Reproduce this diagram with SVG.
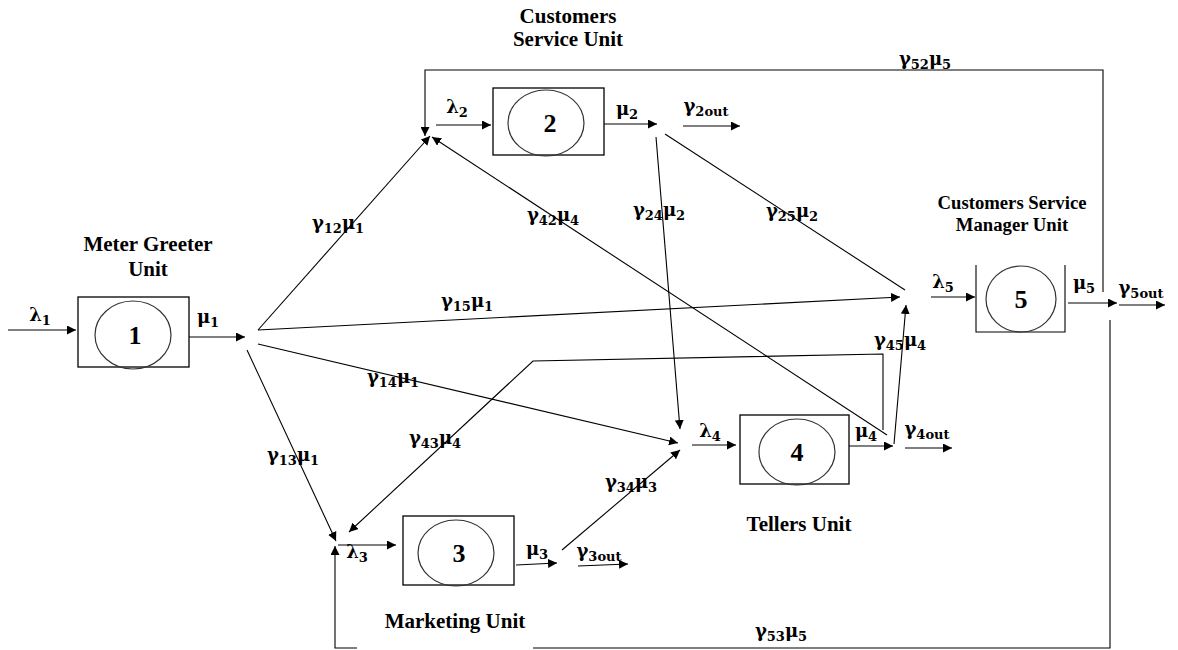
<svg xmlns="http://www.w3.org/2000/svg" width="1178" height="650" viewBox="0 0 1178 650">
<defs>
<marker id="ah" viewBox="0 0 10 10" refX="10" refY="5" markerWidth="9" markerHeight="9" markerUnits="userSpaceOnUse" orient="auto">
<path d="M0,0 L10,5 L0,10 z" fill="#000"/>
</marker>
<style>
.box{fill:#fff;stroke:#000;stroke-width:1.3}
.ell{fill:none;stroke:#333;stroke-width:1.2}
.num{font-family:"Liberation Serif",serif;font-weight:bold;font-size:26px;text-anchor:middle}
.title{font-family:"Liberation Serif",serif;font-weight:bold;font-size:21px;text-anchor:middle}
.small{font-size:18.7px}
.lab{font-family:"DejaVu Serif","Liberation Serif",serif;font-weight:bold;font-size:18px;text-anchor:middle}
.sub{font-size:13px}
.ln{fill:none;stroke:#000;stroke-width:1.1}
.arr{fill:none;stroke:#000;stroke-width:1.1;marker-end:url(#ah)}
</style>
</defs>
<rect width="1178" height="650" fill="#fff"/>

<g id="connectors">
<line class="arr" x1="8" y1="330" x2="76" y2="330"/>
<line class="arr" x1="189" y1="337" x2="245" y2="337"/>
<line class="arr" x1="258" y1="330" x2="430" y2="136"/>
<line class="arr" x1="258" y1="330" x2="900" y2="297"/>
<line class="arr" x1="258" y1="344" x2="678" y2="443"/>
<line class="arr" x1="247" y1="350" x2="336" y2="541"/>
<line class="arr" x1="436" y1="125" x2="491" y2="125"/>
<line class="arr" x1="597" y1="124" x2="657" y2="124"/>
<line class="arr" x1="683" y1="126" x2="740" y2="126"/>
<polyline class="arr" points="1103,292 1103,70 425,70 425,136"/>
<line class="arr" x1="656" y1="137" x2="680" y2="429"/>
<line class="ln" x1="665" y1="134" x2="905" y2="290"/>
<line class="arr" x1="887" y1="435" x2="432" y2="137"/>
<line class="arr" x1="931" y1="297" x2="975" y2="297"/>
<line class="arr" x1="1068" y1="303" x2="1117" y2="303"/>
<line class="arr" x1="1119" y1="305" x2="1165" y2="305"/>
<polyline class="ln" points="1110,320 1110,648 533,648"/>
<polyline class="arr" points="357,648 335,648 335,546"/>
<line class="arr" x1="338" y1="545" x2="396" y2="545"/>
<line class="arr" x1="516" y1="565" x2="557" y2="563"/>
<line class="arr" x1="578" y1="566" x2="628" y2="564"/>
<line class="arr" x1="562" y1="550" x2="680" y2="450"/>
<polyline class="arr" points="883,430 883,354 533,361 349,532"/>
<line class="arr" x1="894" y1="444" x2="906" y2="305"/>
<line class="arr" x1="692" y1="445" x2="736" y2="445"/>
<line class="arr" x1="849" y1="446" x2="893" y2="446"/>
<line class="arr" x1="905" y1="448" x2="952" y2="448"/>
</g>

<g id="node1">
<rect class="box" x="78" y="297" width="111" height="70"/>
<ellipse class="ell" cx="133" cy="335" rx="38" ry="34"/>
<text class="num" x="135" y="344">1</text>
</g>
<g id="node2">
<rect class="box" x="493" y="88" width="111" height="67"/>
<ellipse class="ell" cx="546" cy="123" rx="38" ry="33"/>
<text class="num" x="550" y="132">2</text>
</g>
<g id="node3">
<rect class="box" x="403" y="516" width="111" height="69"/>
<ellipse class="ell" cx="456" cy="553" rx="38" ry="33"/>
<text class="num" x="459" y="562">3</text>
</g>
<g id="node4">
<rect class="box" x="740" y="415" width="109" height="69"/>
<ellipse class="ell" cx="797" cy="452" rx="38" ry="33"/>
<text class="num" x="797" y="461">4</text>
</g>
<g id="node5">
<polyline class="ln" points="976,265 976,332 1065,332 1065,265" stroke-width="1.3"/>
<ellipse class="ell" cx="1021" cy="299" rx="35" ry="33"/>
<text class="num" x="1021" y="308">5</text>
</g>

<g id="titles">
<text class="title" x="568" y="23">Customers</text>
<text class="title" x="568" y="46">Service Unit</text>
<text class="title" x="148" y="251">Meter Greeter</text>
<text class="title" x="148" y="276">Unit</text>
<text class="title small" x="1012" y="209">Customers Service</text>
<text class="title small" x="1012" y="231">Manager Unit</text>
<text class="title" x="799" y="531">Tellers Unit</text>
<text class="title" x="455" y="628">Marketing Unit</text>
</g>

<g id="labels">
<text class="lab" x="40" y="321">λ<tspan class="sub" dy="4">1</tspan></text>
<text class="lab" x="208" y="323">μ<tspan class="sub" dy="4">1</tspan></text>
<text class="lab" x="457" y="113">λ<tspan class="sub" dy="4">2</tspan></text>
<text class="lab" x="627" y="115">μ<tspan class="sub" dy="4">2</tspan></text>
<text class="lab" x="706" y="112">γ<tspan class="sub" dy="4">2out</tspan></text>
<text class="lab" x="357" y="558">λ<tspan class="sub" dy="4">3</tspan></text>
<text class="lab" x="537" y="555">μ<tspan class="sub" dy="4">3</tspan></text>
<text class="lab" x="599" y="557">γ<tspan class="sub" dy="4">3out</tspan></text>
<text class="lab" x="710" y="437">λ<tspan class="sub" dy="4">4</tspan></text>
<text class="lab" x="866" y="437">μ<tspan class="sub" dy="4">4</tspan></text>
<text class="lab" x="927" y="435">γ<tspan class="sub" dy="4">4out</tspan></text>
<text class="lab" x="943" y="288">λ<tspan class="sub" dy="4">5</tspan></text>
<text class="lab" x="1084" y="289">μ<tspan class="sub" dy="4">5</tspan></text>
<text class="lab" x="1141" y="294">γ<tspan class="sub" dy="4">5out</tspan></text>
<text class="lab" x="338" y="229">γ<tspan class="sub" dy="4">12</tspan><tspan dy="-4">μ</tspan><tspan class="sub" dy="4">1</tspan></text>
<text class="lab" x="553" y="221">γ<tspan class="sub" dy="4">42</tspan><tspan dy="-4">μ</tspan><tspan class="sub" dy="4">4</tspan></text>
<text class="lab" x="659" y="216">γ<tspan class="sub" dy="4">24</tspan><tspan dy="-4">μ</tspan><tspan class="sub" dy="4">2</tspan></text>
<text class="lab" x="792" y="217">γ<tspan class="sub" dy="4">25</tspan><tspan dy="-4">μ</tspan><tspan class="sub" dy="4">2</tspan></text>
<text class="lab" x="467" y="307">γ<tspan class="sub" dy="4">15</tspan><tspan dy="-4">μ</tspan><tspan class="sub" dy="4">1</tspan></text>
<text class="lab" x="393" y="383">γ<tspan class="sub" dy="4">14</tspan><tspan dy="-4">μ</tspan><tspan class="sub" dy="4">1</tspan></text>
<text class="lab" x="293" y="461">γ<tspan class="sub" dy="4">13</tspan><tspan dy="-4">μ</tspan><tspan class="sub" dy="4">1</tspan></text>
<text class="lab" x="435" y="444">γ<tspan class="sub" dy="4">43</tspan><tspan dy="-4">μ</tspan><tspan class="sub" dy="4">4</tspan></text>
<text class="lab" x="631" y="488">γ<tspan class="sub" dy="4">34</tspan><tspan dy="-4">μ</tspan><tspan class="sub" dy="4">3</tspan></text>
<text class="lab" x="900" y="346">γ<tspan class="sub" dy="4">45</tspan><tspan dy="-4">μ</tspan><tspan class="sub" dy="4">4</tspan></text>
<text class="lab" x="925" y="65">γ<tspan class="sub" dy="4">52</tspan><tspan dy="-4">μ</tspan><tspan class="sub" dy="4">5</tspan></text>
<text class="lab" x="781" y="637">γ<tspan class="sub" dy="4">53</tspan><tspan dy="-4">μ</tspan><tspan class="sub" dy="4">5</tspan></text>
</g>
</svg>
